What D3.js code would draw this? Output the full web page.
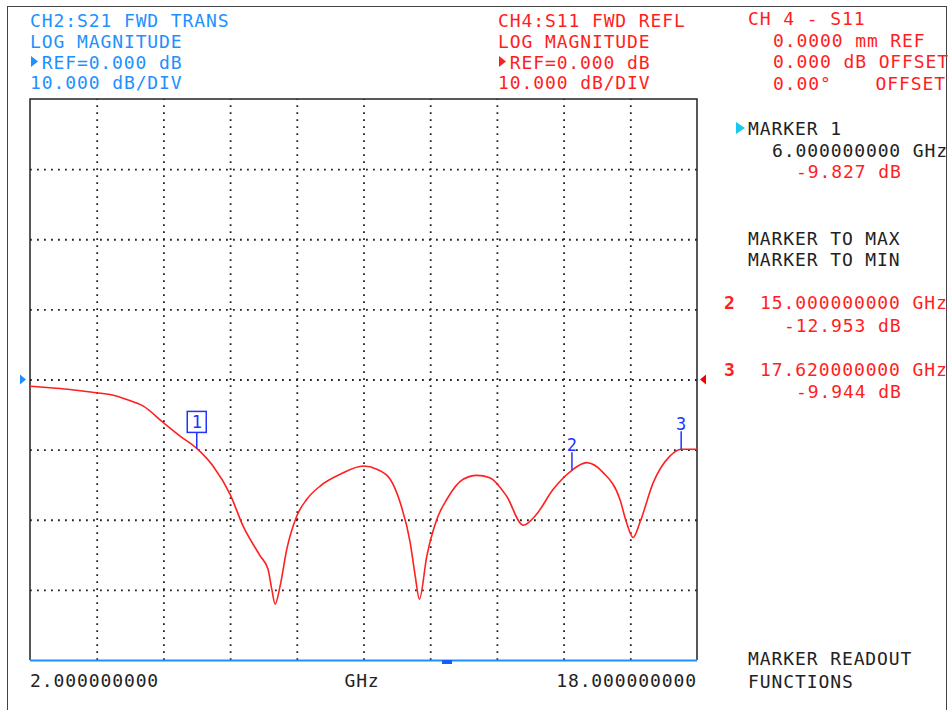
<!DOCTYPE html>
<html>
<head>
<meta charset="utf-8">
<script src="https://cdn.jsdelivr.net/npm/d3@7"></script>
<style>
  body { margin: 0; background: #fff; }
  text { font-family: "DejaVu Sans Mono", monospace; font-size: 18px; letter-spacing: 0.9px; }
</style>
</head>
<body>
<div id="chart"></div>
<script>
// S11 trace (GHz, dB)
const freqGHz = [2.00, 2.48, 2.96, 3.60, 3.92, 4.32, 4.72, 5.20, 5.60, 6.00,
  6.39, 6.80, 7.11, 7.52, 7.71, 7.80, 7.88, 8.00, 8.16, 8.40, 8.64,
  8.96, 9.44, 10.00, 10.32, 10.64, 10.88, 11.12, 11.24, 11.34, 11.52,
  11.76, 12.00, 12.39, 12.72, 13.03, 13.43, 13.83, 14.15, 14.55, 15.00,
  15.35, 15.75, 16.15, 16.31, 16.47, 16.63, 16.95, 17.35, 17.62, 18.00];
const s11dB = [-0.95, -1.18, -1.42, -1.89, -2.14, -2.85, -3.80, -6.16, -8.07, -9.83,
  -12.34, -16.37, -20.88, -25.15, -27.05, -29.9, -32.03, -29.42, -24.20, -19.46, -17.08,
  -15.19, -13.52, -12.34, -12.81, -14.23, -17.55, -23.25, -28.0, -31.32, -25.15,
  -19.93, -17.08, -14.23, -13.67, -14.0, -16.61, -20.78, -19.22, -15.66, -12.95,
  -11.86, -13.28, -17.08, -20.4, -22.53, -20.4, -14.7, -10.92, -9.94, -9.96];

const markerNames = ["1", "2", "3"];
const markerFreq = [6.0, 15.0, 17.62];
const markerDb = [-9.827, -12.953, -9.944];

const startGHz = 2, stopGHz = 18;
const refDb = 0, dbPerDiv = 10, yDivs = 8, xDivs = 10;

const W = 951, H = 710;
const plot = { left: 30, right: 697, top: 99, bottom: 660 };

const blue = "#1e90ff", red = "#ff1e1e", ink = "#222";

const svg = d3.select("#chart").append("svg")
  .attr("width", W).attr("height", H);

// outer frame
svg.append("rect")
  .attr("x", 7.5).attr("y", 6.5).attr("width", 939).attr("height", 710)
  .attr("fill", "none").attr("stroke", "#444").attr("stroke-width", 1);

const x = d3.scaleLinear().domain([startGHz, stopGHz]).range([plot.left, plot.right]);
const y = d3.scaleLinear()
  .domain([refDb - dbPerDiv * yDivs / 2, refDb + dbPerDiv * yDivs / 2])
  .range([plot.bottom, plot.top]);

const xTicks = d3.range(1, xDivs).map(i => startGHz + i * (stopGHz - startGHz) / xDivs);
const yTicks = d3.range(1, yDivs).map(i => y.domain()[0] + i * dbPerDiv);

// dotted grid
const gx = svg.append("g")
  .attr("transform", `translate(0,${plot.bottom})`)
  .call(d3.axisBottom(x).tickValues(xTicks).tickSize(-(plot.bottom - plot.top)).tickFormat(""));
const gy = svg.append("g")
  .attr("transform", `translate(${plot.left},0)`)
  .call(d3.axisLeft(y).tickValues(yTicks).tickSize(-(plot.right - plot.left)).tickFormat(""));
[gx, gy].forEach(g => {
  g.select(".domain").remove();
  g.selectAll(".tick line")
    .attr("stroke", "#222").attr("stroke-width", 1.8)
    .attr("stroke-dasharray", "1.8,5.2");
});

// frame: black left/top/right, blue bottom
svg.append("path")
  .attr("d", `M${plot.left},${plot.bottom}V${plot.top}H${plot.right}V${plot.bottom}`)
  .attr("fill", "none").attr("stroke", "#222").attr("stroke-width", 1.5);
svg.append("line")
  .attr("x1", plot.left).attr("x2", plot.right)
  .attr("y1", plot.bottom + 0.5).attr("y2", plot.bottom + 0.5)
  .attr("stroke", blue).attr("stroke-width", 2);
svg.append("rect")
  .attr("x", 442).attr("y", 660).attr("width", 10).attr("height", 4)
  .attr("fill", "#1060ff");

// reference triangles
svg.append("path")
  .attr("d", `M20,${y(refDb) - 5}L26,${y(refDb)}L20,${y(refDb) + 5}Z`)
  .attr("fill", blue);
svg.append("path")
  .attr("d", `M706,${y(refDb) - 5}L700,${y(refDb)}L706,${y(refDb) + 5}Z`)
  .attr("fill", "#e00");

// trace
const line = d3.line()
  .x(d => x(d[0])).y(d => y(d[1]))
  .curve(d3.curveMonotoneX);
svg.append("path")
  .datum(d3.zip(freqGHz, s11dB))
  .attr("d", line)
  .attr("fill", "none").attr("stroke", "#ff2020").attr("stroke-width", 1.6);

// markers
const mk = svg.append("g").selectAll("g")
  .data(d3.zip(markerNames, markerFreq, markerDb))
  .join("g")
  .attr("transform", d => `translate(${x(d[1])},${y(d[2])})`);
mk.append("line")
  .attr("x1", 0).attr("x2", 0).attr("y1", 0).attr("y2", d => d[0] === "1" ? -16 : -18)
  .attr("stroke", "#2233ff").attr("stroke-width", 1.5);
mk.filter(d => d[0] === "1").append("rect")
  .attr("x", -9.5).attr("y", -37).attr("width", 19).attr("height", 21)
  .attr("fill", "none").attr("stroke", "#2233ff").attr("stroke-width", 1.5);
mk.append("text")
  .attr("x", 0).attr("y", d => d[0] === "1" ? -20 : -19)
  .attr("text-anchor", "middle")
  .style("font-size", "17px").style("letter-spacing", "0")
  .attr("fill", "#2233ff")
  .text(d => d[0]);

// header text
function txt(s, tx, ty, color, extra) {
  const t = svg.append("text").attr("x", tx).attr("y", ty).attr("fill", color).text(s);
  if (extra) extra(t);
  return t;
}
const rows = [27, 48, 69, 89];
function refLine(tx, color) {
  svg.append("path")
    .attr("d", `M${tx + 1},${rows[2] - 13}L${tx + 8},${rows[2] - 7.5}L${tx + 1},${rows[2] - 2}Z`)
    .attr("fill", color);
  txt("REF=0.000 dB", tx + 11.7, rows[2], color);
}
txt("CH2:S21 FWD TRANS", 30, rows[0], blue);
txt("LOG MAGNITUDE", 30, rows[1], blue);
refLine(30, blue);
txt("10.000 dB/DIV", 30, rows[3], blue);

txt("CH4:S11 FWD REFL", 498, rows[0], red);
txt("LOG MAGNITUDE", 498, rows[1], red);
refLine(498, red);
txt("10.000 dB/DIV", 498, rows[3], red);

txt("CH 4 - S11", 748, 25, red);
txt("0.0000 mm REF", 773, 47, red);
txt("0.000 dB OFFSET", 773, 68, red);
txt("0.00\u00B0", 773, 90, red);
txt("OFFSET", 946, 90, red, t => t.attr("text-anchor", "end"));

// marker panel
svg.append("path").attr("d", "M736,122L745,128L736,134Z").attr("fill", "#19c8f0");
txt("MARKER 1", 748, 135, ink);
txt(markerFreq[0].toFixed(9) + " GHz", 772, 157, ink);
txt(markerDb[0].toFixed(3) + " dB", 796, 178, red);
txt("MARKER TO MAX", 748, 245, ink);
txt("MARKER TO MIN", 748, 266, ink);

txt("2", 724, 309, red, t => t.attr("font-weight", "bold"));
txt(markerFreq[1].toFixed(9) + " GHz", 760, 309, red);
txt(markerDb[1].toFixed(3) + " dB", 784, 332, red);
txt("3", 724, 376, red, t => t.attr("font-weight", "bold"));
txt(markerFreq[2].toFixed(9) + " GHz", 760, 376, red);
txt(markerDb[2].toFixed(3) + " dB", 796, 398, red);

txt("MARKER READOUT", 748, 665, ink);
txt("FUNCTIONS", 748, 688, ink);

// frequency axis labels
txt(startGHz.toFixed(9), plot.left, 687, ink);
txt("GHz", 362, 687, ink, t => t.attr("text-anchor", "middle"));
txt(stopGHz.toFixed(9), plot.right, 687, ink, t => t.attr("text-anchor", "end"));
</script>
</body>
</html>
